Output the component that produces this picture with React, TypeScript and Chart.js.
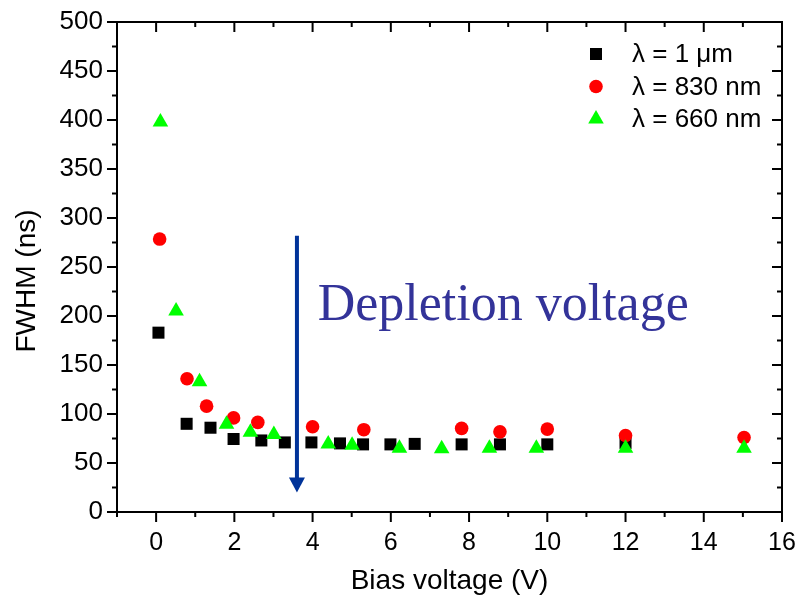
import { useEffect, useRef } from "react";
import { Chart, registerables } from "chart.js";
import { drawPoint } from "chart.js/helpers";

Chart.register(...registerables);

// ---- data ----
const seriesLabels = ["λ = 1 μm", "λ = 830 nm", "λ = 660 nm"];
const seriesColors = ["#000000", "#ff0000", "#00ff00"];
const seriesStyles = ["rect", "circle", "triangle"];
const seriesRadius = [8.5, 6.8, 9];

const bias1um = [0.06, 0.78, 1.39, 1.98, 2.69, 3.29, 3.97, 4.7, 5.29, 5.99, 6.61, 7.81, 8.79, 10.0, 12.0];
const fwhm1um = [183, 90, 86, 74.5, 73, 71, 71, 70, 69, 69, 69.5, 69, 69, 69, 70.5];

const bias830 = [0.09, 0.79, 1.29, 1.98, 2.6, 4.0, 5.31, 7.81, 8.79, 10.0, 12.0, 15.03];
const fwhm830 = [278.5, 136, 108, 96, 91.5, 87, 84, 85.3, 81.8, 84.6, 78, 76];

const bias660 = [0.11, 0.51, 1.11, 1.8, 2.41, 3.01, 4.4, 5.01, 6.22, 7.3, 8.52, 9.72, 12.0, 15.03];
const fwhm660 = [398, 205, 133, 89.5, 81.5, 79, 69.5, 68, 65, 64.5, 65, 65, 65, 65];

const xMajorTicks = [0, 2, 4, 6, 8, 10, 12, 14, 16];
const xMinorTicks = [-1, 1, 3, 5, 7, 9, 11, 13, 15];
const yMajorTicks = [0, 50, 100, 150, 200, 250, 300, 350, 400, 450, 500];
const yMinorTicks = [25, 75, 125, 175, 225, 275, 325, 375, 425, 475];

const xTitle = "Bias voltage (V)";
const yTitle = "FWHM (ns)";
const annotationText = "Depletion voltage";
const arrowX = 3.6;
const arrowFrom = 282;
const arrowTo = 20;
const textX = 4.13;
const textY = 196;

const toPoints = (xs: number[], ys: number[]) => xs.map((v, i) => ({ x: v, y: ys[i] }));

const framePlugin = {
  id: "frame",
  afterDatasetsDraw(chart: any) {
    const { ctx, chartArea, scales } = chart;
    const { left, right, top, bottom } = chartArea;
    const x = scales.x;
    const y = scales.y;
    ctx.save();
    ctx.strokeStyle = "#000";
    ctx.lineWidth = 2;
    ctx.lineCap = "butt";
    ctx.beginPath();
    ctx.rect(left, top, right - left, bottom - top);
    ctx.stroke();
    const tick = (x1: number, y1: number, x2: number, y2: number) => {
      ctx.beginPath();
      ctx.moveTo(x1, y1);
      ctx.lineTo(x2, y2);
      ctx.stroke();
    };
    for (const v of xMajorTicks) {
      const px = x.getPixelForValue(v);
      tick(px, bottom, px, bottom + 10);
      tick(px, top, px, top + 10);
    }
    for (const v of xMinorTicks) {
      const px = x.getPixelForValue(v);
      tick(px, bottom, px, bottom + 5);
      tick(px, top, px, top + 5);
    }
    for (const v of yMajorTicks) {
      const py = y.getPixelForValue(v);
      tick(left, py, left - 10, py);
      tick(right, py, right - 10, py);
    }
    for (const v of yMinorTicks) {
      const py = y.getPixelForValue(v);
      tick(left, py, left - 5, py);
      tick(right, py, right - 5, py);
    }

    // arrow
    const ax = x.getPixelForValue(arrowX);
    const ay1 = y.getPixelForValue(arrowFrom);
    const ay2 = y.getPixelForValue(arrowTo);
    ctx.strokeStyle = "#003399";
    ctx.fillStyle = "#003399";
    ctx.lineWidth = 4;
    tick(ax, ay1, ax, ay2 - 12);
    ctx.beginPath();
    ctx.moveTo(ax - 8, ay2 - 15);
    ctx.lineTo(ax + 8, ay2 - 15);
    ctx.lineTo(ax, ay2);
    ctx.closePath();
    ctx.fill();

    // annotation text
    ctx.fillStyle = "#333399";
    ctx.font = '52px "Liberation Serif"';
    ctx.textBaseline = "alphabetic";
    ctx.textAlign = "left";
    ctx.fillText(annotationText, x.getPixelForValue(textX), y.getPixelForValue(textY));

    // y title
    ctx.save();
    ctx.fillStyle = "#000";
    ctx.font = '28px "Liberation Sans"';
    ctx.textAlign = "center";
    ctx.textBaseline = "middle";
    ctx.translate(27, (top + bottom) / 2 + 14);
    ctx.rotate(-Math.PI / 2);
    ctx.fillText(yTitle, 0, 0);
    ctx.restore();

    // legend
    ctx.font = '26px "Liberation Sans"';
    ctx.textAlign = "left";
    ctx.textBaseline = "middle";
    chart.data.datasets.forEach((ds: any, i: number) => {
      const ly = top + 32 + i * 32.5;
      const lx = right - 186;
      ctx.fillStyle = ds.backgroundColor;
      ctx.strokeStyle = ds.borderColor;
      ctx.lineWidth = 0;
      drawPoint(ctx, { pointStyle: ds.pointStyle, radius: ds.pointRadius, rotation: 0, borderWidth: 0 }, lx, ly);
      ctx.fillStyle = "#000";
      ctx.fillText(ds.label, lx + 36, ly + 1);
    });
    ctx.restore();
  },
};

export default function App() {
  const ref = useRef<HTMLCanvasElement | null>(null);
  useEffect(() => {
    document.body.style.margin = "0";
    if (!ref.current) return;
    const datasets = [
      toPoints(bias1um, fwhm1um),
      toPoints(bias830, fwhm830),
      toPoints(bias660, fwhm660),
    ].map((data, i) => ({
      label: seriesLabels[i],
      data,
      showLine: false,
      pointStyle: seriesStyles[i],
      pointRadius: seriesRadius[i],
      pointHoverRadius: seriesRadius[i],
      pointBorderWidth: 0,
      backgroundColor: seriesColors[i],
      borderColor: seriesColors[i],
      order: 3 - i,
    }));
    const chart = new Chart(ref.current, {
      type: "scatter",
      data: { datasets } as any,
      options: {
        animation: false,
        responsive: true,
        maintainAspectRatio: false,
        layout: { padding: { left: 0, right: 18, top: 22, bottom: 0 } },
        plugins: { legend: { display: false }, tooltip: { enabled: false } },
        scales: {
          x: {
            type: "linear",
            min: -1,
            max: 16,
            afterBuildTicks: (s: any) => {
              s.ticks = xMajorTicks.map((v) => ({ value: v }));
            },
            afterFit: (s: any) => {
              s.height = 91;
              s.paddingLeft = 0;
              s.paddingRight = 0;
            },
            grid: { display: false },
            border: { display: false },
            ticks: {
              color: "#000",
              font: { family: "Liberation Sans", size: 25 },
              padding: 8,
              maxRotation: 0,
              autoSkip: false,
            },
            title: {
              display: true,
              text: xTitle,
              color: "#000",
              font: { family: "Liberation Sans", size: 28 },
              padding: { top: 0, bottom: 5 },
            },
          },
          y: {
            type: "linear",
            min: 0,
            max: 500,
            afterBuildTicks: (s: any) => {
              s.ticks = yMajorTicks.map((v) => ({ value: v }));
            },
            afterFit: (s: any) => {
              s.width = 117;
              s.paddingTop = 0;
              s.paddingBottom = 0;
            },
            grid: { display: false },
            border: { display: false },
            ticks: {
              color: "#000",
              font: { family: "Liberation Sans", size: 26 },
              padding: 6,
              autoSkip: false,
            },
          },
        },
      },
      plugins: [framePlugin],
    });
    return () => chart.destroy();
  }, []);
  return (
    <div style={{ width: 800, height: 603, position: "relative" }}>
      <canvas ref={ref} />
    </div>
  );
}
